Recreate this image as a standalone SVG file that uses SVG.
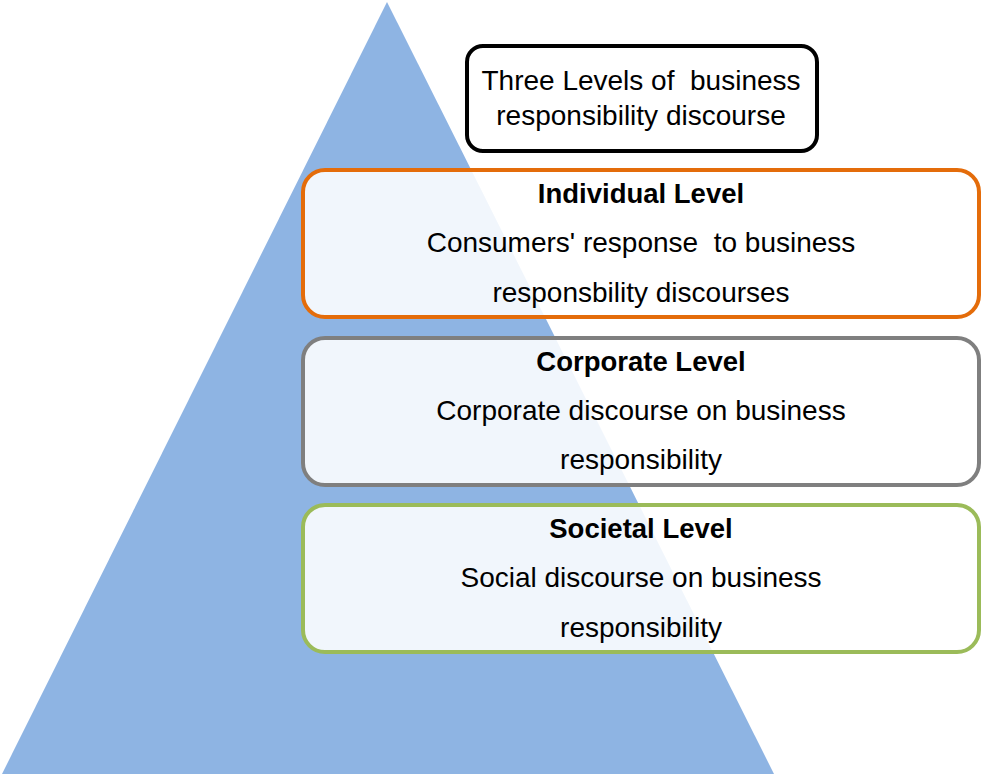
<svg xmlns="http://www.w3.org/2000/svg" width="983" height="776" viewBox="0 0 983 776">
<style>
.t{font-family:"Liberation Sans",Arial,sans-serif;font-size:28px;fill:#000;text-anchor:middle;white-space:pre}
.b{font-weight:bold;font-size:27.5px}
.box{fill:#fff;fill-opacity:0.88;stroke-width:4}
</style>
<rect width="983" height="776" fill="#fff"/>
<g id="pyramid"><polygon points="387,2 2,774 774,774" fill="#8eb4e3"/></g>
<g id="title">
<rect x="467" y="46" width="350" height="105" rx="16" fill="#fff" stroke="#000" stroke-width="4"/>
<text class="t" x="641" y="90" xml:space="preserve">Three Levels of  business</text>
<text class="t" x="641" y="125">responsibility discourse</text>
</g>
<g id="individual">
<rect class="box" x="303" y="170" width="676" height="147" rx="22" stroke="#e46c0a"/>
<text class="t b" x="641" y="203">Individual Level</text>
<text class="t" x="641" y="252" xml:space="preserve">Consumers' response  to business</text>
<text class="t" x="641" y="302">responsbility discourses</text>
</g>
<g id="corporate">
<rect class="box" x="303" y="338" width="676" height="147" rx="22" stroke="#7f7f7f"/>
<text class="t b" x="641" y="371">Corporate Level</text>
<text class="t" x="641" y="420">Corporate discourse on business</text>
<text class="t" x="641" y="469">responsibility</text>
</g>
<g id="societal">
<rect class="box" x="303" y="505" width="676" height="147" rx="22" stroke="#9bbb59"/>
<text class="t b" x="641" y="538">Societal Level</text>
<text class="t" x="641" y="587">Social discourse on business</text>
<text class="t" x="641" y="637">responsibility</text>
</g>
<g id="connectors"></g>
</svg>
